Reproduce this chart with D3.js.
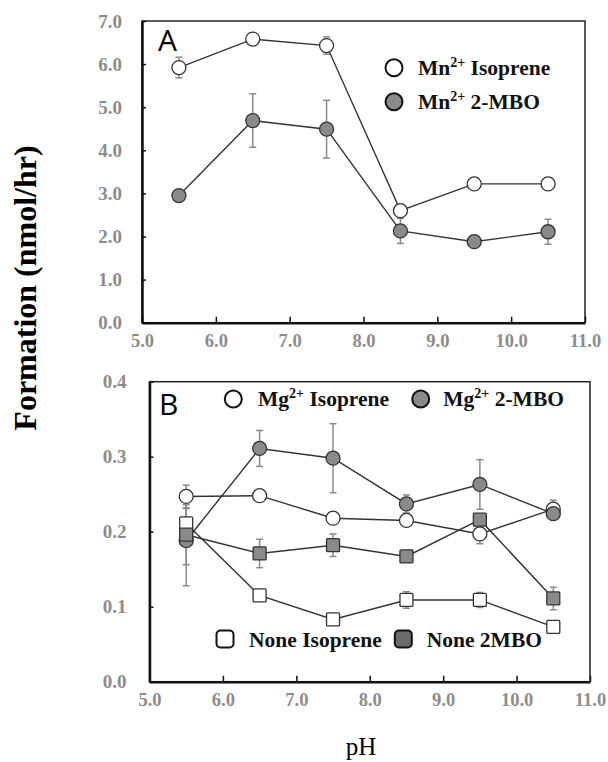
<!DOCTYPE html>
<html lang="en">
<head>
    <meta charset="utf-8">
    <title>index.html</title>
    <script type="text/javascript" src="https://cdnjs.cloudflare.com/ajax/libs/d3/7.8.5/d3.min.js"></script>
    <style>
      body { margin: 0; background: #fff; }
    </style>
</head>
<body>
    <script type="text/javascript">
      //data
      var pH = [5.5, 6.5, 7.5, 8.5, 9.5, 10.5];

      //panel A (Mn2+)
      var mnIso = [5.92, 6.58, 6.43, 2.60, 3.22, 3.22],
          mnIsoErr = [0.24, 0, 0.2, 0, 0, 0],
          mnMbo = [2.95, 4.69, 4.49, 2.13, 1.88, 2.11],
          mnMboErr = [0, 0.62, 0.67, 0.29, 0, 0.29];

      //panel B (Mg2+ and none)
      var mgIso = [0.247, 0.248, 0.218, 0.215, 0.197, 0.230],
          mgIsoErr = [0.015, 0, 0, 0.007, 0.013, 0.012],
          mgMbo = [0.188, 0.311, 0.298, 0.237, 0.263, 0.224],
          mgMboErr = [0.06, 0.024, 0.046, 0.012, 0.033, 0],
          noneIso = [0.211, 0.115, 0.083, 0.109, 0.109, 0.073],
          noneIsoErr = [0.02, 0, 0, 0.011, 0.01, 0],
          noneMbo = [0.196, 0.171, 0.182, 0.167, 0.216, 0.111],
          noneMboErr = [0.04, 0.019, 0.015, 0, 0, 0.015];

      //tick values
      var xTicks = [5, 6, 7, 8, 9, 10, 11],
          yTicksA = [0, 1, 2, 3, 4, 5, 6, 7],
          yTicksB = [0, 0.1, 0.2, 0.3, 0.4];

      var serif = "'Liberation Serif', 'Times New Roman', serif",
          grey = "#8a8a8a",
          tickGrey = "#8c8c8c",
          lineCol = "#333";

      var svg = d3.select("body")
                  .append("svg")
                  .attr("width", 608)
                  .attr("height", 762);

      //draw one panel
      function panel(opt) {
        var x = d3.scaleLinear().domain([5, 11]).range(opt.xr);
        var y = d3.scaleLinear().domain(opt.yd).range(opt.yr);
        var g = svg.append("g");

        //frame
        g.append("rect")
         .attr("x", opt.xr[0]).attr("y", opt.yr[1])
         .attr("width", opt.xr[1] - opt.xr[0])
         .attr("height", opt.yr[0] - opt.yr[1])
         .attr("fill", "none")
         .attr("stroke", "#222")
         .attr("stroke-width", 1.5);

        //x axis
        var xa = g.append("g")
         .attr("transform", "translate(0," + opt.yr[0] + ")")
         .call(d3.axisBottom(x).tickValues(xTicks).tickSizeInner(-6).tickSizeOuter(0)
                 .tickPadding(opt.xPad).tickFormat(d3.format(".1f")));
        xa.select(".domain").attr("stroke", "#111").attr("stroke-width", 2.5);
        xa.selectAll(".tick line").attr("stroke", "#111").attr("stroke-width", 1.5);
        xa.selectAll(".tick text")
          .attr("fill", tickGrey)
          .style("font-family", serif).style("font-size", "18.5px").style("font-weight", "bold");

        //y axis
        var ya = g.append("g")
         .attr("transform", "translate(" + opt.xr[0] + ",0)")
         .call(d3.axisLeft(y).tickValues(opt.yt).tickSizeInner(-4).tickSizeOuter(0)
                 .tickPadding(opt.yPad).tickFormat(d3.format(".1f")));
        ya.select(".domain").attr("stroke", "#111").attr("stroke-width", 2.5);
        ya.selectAll(".tick line").attr("stroke", "#111").attr("stroke-width", 1.5);
        ya.selectAll(".tick text")
          .attr("fill", tickGrey)
          .style("font-family", serif).style("font-size", "19px").style("font-weight", "bold");

        //panel letter
        g.append("text")
         .attr("x", opt.letterPos[0]).attr("y", opt.letterPos[1])
         .style("font-family", "'Open Sans', 'Liberation Sans', sans-serif")
         .style("font-size", "30px")
         .text(opt.letter);

        var line = d3.line()
                     .x(function(d) { return x(d[0]); })
                     .y(function(d) { return y(d[1]); });

        //error bars
        opt.series.forEach(function(s) {
          s.values.forEach(function(v, i) {
            var e = s.err[i];
            if (!e) return;
            var cx = x(pH[i]);
            g.append("line")
             .attr("x1", cx).attr("x2", cx)
             .attr("y1", y(v - e)).attr("y2", y(v + e))
             .attr("stroke", grey).attr("stroke-width", 1.5);
            [v - e, v + e].forEach(function(w) {
              g.append("line")
               .attr("x1", cx - 3.5).attr("x2", cx + 3.5)
               .attr("y1", y(w)).attr("y2", y(w))
               .attr("stroke", grey).attr("stroke-width", 1.5);
            });
          });
        });

        //lines
        opt.series.forEach(function(s) {
          g.append("path")
           .datum(d3.zip(pH, s.values))
           .attr("d", line)
           .attr("fill", "none")
           .attr("stroke", lineCol)
           .attr("stroke-width", 1.4);
        });

        //markers
        opt.series.forEach(function(s) {
          s.values.forEach(function(v, i) {
            if (s.shape === "circle") {
              g.append("circle")
               .attr("cx", x(pH[i])).attr("cy", y(v)).attr("r", 7)
               .attr("fill", s.fill).attr("stroke", lineCol).attr("stroke-width", 1.3);
            } else {
              g.append("rect")
               .attr("x", x(pH[i]) - 6.5).attr("y", y(v) - 6.5)
               .attr("width", 13).attr("height", 13).attr("rx", 1)
               .attr("fill", s.fill).attr("stroke", lineCol).attr("stroke-width", 1.3);
            }
          });
        });

        //legend
        opt.legend.forEach(function(l) {
          if (l.shape === "circle") {
            g.append("circle")
             .attr("cx", l.mx).attr("cy", l.my).attr("r", 8.5)
             .attr("fill", l.fill).attr("stroke", "#111").attr("stroke-width", 2);
          } else {
            g.append("rect")
             .attr("x", l.mx - 8.5).attr("y", l.my - 8.5)
             .attr("width", 17).attr("height", 17).attr("rx", 4)
             .attr("fill", l.fill).attr("stroke", "#111").attr("stroke-width", 2);
          }
          var t = g.append("text")
           .attr("x", l.tx).attr("y", l.ty)
           .style("font-family", serif).style("font-size", "21.5px").style("font-weight", "bold")
           .attr("fill", "#111");
          t.append("tspan").text(l.pre);
          if (l.sup) {
            t.append("tspan").attr("dy", -8).style("font-size", "14px").text(l.sup);
            t.append("tspan").attr("dy", 8).text(" " + l.post);
          } else {
            t.append("tspan").text(" " + l.post);
          }
        });
      }

      panel({
        xr: [142, 585], yr: [322.7, 21], yd: [0, 7], yt: yTicksA,
        xPad: 11, yPad: 20, letter: "A", letterPos: [158, 51],
        series: [
          {values: mnIso, err: mnIsoErr, shape: "circle", fill: "#fff"},
          {values: mnMbo, err: mnMboErr, shape: "circle", fill: grey}
        ],
        legend: [
          {shape: "circle", fill: "#fff", mx: 394, my: 67.7, tx: 418, ty: 74.5, pre: "Mn", sup: "2+", post: "Isoprene"},
          {shape: "circle", fill: grey, mx: 394, my: 101.7, tx: 418, ty: 108.5, pre: "Mn", sup: "2+", post: "2-MBO"}
        ]
      });

      panel({
        xr: [149.5, 590], yr: [681.7, 381.7], yd: [0, 0.4], yt: yTicksB,
        xPad: 11, yPad: 23, letter: "B", letterPos: [159, 415],
        series: [
          {values: mgIso, err: mgIsoErr, shape: "circle", fill: "#fff"},
          {values: mgMbo, err: mgMboErr, shape: "circle", fill: grey},
          {values: noneIso, err: noneIsoErr, shape: "square", fill: "#fff"},
          {values: noneMbo, err: noneMboErr, shape: "square", fill: grey}
        ],
        legend: [
          {shape: "circle", fill: "#fff", mx: 233.3, my: 399, tx: 258, ty: 405.5, pre: "Mg", sup: "2+", post: "Isoprene"},
          {shape: "circle", fill: grey, mx: 420.7, my: 399, tx: 443.3, ty: 405.5, pre: "Mg", sup: "2+", post: "2-MBO"},
          {shape: "square", fill: "#fff", mx: 225, my: 639, tx: 249, ty: 647, pre: "None", post: "Isoprene"},
          {shape: "square", fill: "#6a6a6a", mx: 403.3, my: 639, tx: 426.7, ty: 647, pre: "None", post: "2MBO"}
        ]
      });

      //axis titles
      svg.append("text")
         .attr("transform", "translate(36,288) rotate(-90)")
         .attr("text-anchor", "middle")
         .style("font-family", serif).style("font-size", "32px").style("font-weight", "bold")
         .text("Formation (nmol/hr)");

      svg.append("text")
         .attr("x", 361).attr("y", 755)
         .attr("text-anchor", "middle")
         .style("font-family", serif).style("font-size", "25px")
         .text("pH");
    </script>
</body>
</html>
